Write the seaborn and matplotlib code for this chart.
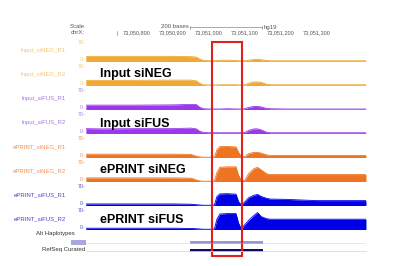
import matplotlib
matplotlib.use("Agg")
import matplotlib.pyplot as plt
import seaborn as sns
import pandas as pd
from matplotlib.patches import Rectangle

sns.set_theme(style="white")
plt.rcParams['font.family'] = ['Liberation Sans', 'DejaVu Sans']

# ---------------- data ----------------
positions = [73050658, 73050700, 73050800, 73050900, 73050950, 73050965, 73050975,
             73050985, 73051000, 73051015, 73051022, 73051030, 73051050, 73051075,
             73051082, 73051090, 73051100, 73051110, 73051125, 73051135, 73051145,
             73051160, 73051170, 73051210, 73051300, 73051436]

input_sineg_r1 = [20, 20, 20, 20, 19, 17, 9, 4, 3, 3, 4, 5, 5, 4, 3, 3, 3, 5, 8, 8, 7, 4, 3, 3, 3, 3]
input_sineg_r2 = [20, 20, 20, 21, 21, 18, 8, 3, 2, 2, 2, 3, 3, 3, 2, 2, 3, 9, 14, 14, 12, 5, 3, 3, 3, 3]
input_sifus_r1 = [17, 17, 17, 18, 20, 19, 8, 3, 2, 2, 2, 2, 3, 2, 2, 2, 3, 8, 12, 12, 10, 4, 3, 2, 2, 2]
input_sifus_r2 = [19, 18, 19, 19, 21, 18, 8, 4, 3, 3, 3, 3, 3, 3, 3, 3, 4, 12, 18, 18, 14, 5, 3, 3, 3, 3]
eprint_sineg_r1 = [13, 13, 13, 13, 12, 5, 2, 1, 1, 2, 30, 42, 43, 41, 20, 3, 3, 15, 20, 20, 17, 10, 8, 8, 8, 8]
eprint_sineg_r2 = [14, 14, 14, 14, 13, 6, 2, 1, 1, 2, 35, 55, 57, 57, 25, 3, 5, 30, 50, 55, 45, 30, 27, 27, 27, 27]
eprint_sifus_r1 = [6, 6, 6, 6, 5, 3, 2, 1, 1, 2, 35, 45, 46, 44, 15, 2, 15, 30, 40, 43, 35, 28, 25, 24, 19, 19]
eprint_sifus_r2 = [5, 5, 5, 5, 4, 3, 2, 1, 1, 2, 40, 60, 62, 62, 25, 2, 20, 35, 55, 66, 50, 42, 40, 40, 40, 40]

track_names = ["Input_siNEG_R1", "Input_siNEG_R2", "Input_siFUS_R1", "Input_siFUS_R2",
               "ePRINT_siNEG_R1", "ePRINT_siNEG_R2", "ePRINT_siFUS_R1", "ePRINT_siFUS_R2"]
track_values = [input_sineg_r1, input_sineg_r2, input_sifus_r1, input_sifus_r2,
                eprint_sineg_r1, eprint_sineg_r2, eprint_sifus_r1, eprint_sifus_r2]
track_colors = ["#F0A830", "#F0A830", "#9A38EC", "#9A38EC",
                "#EE7422", "#EE7422", "#0000E8", "#0000E8"]
label_colors = ["#F2C678", "#F2C678", "#A878E8", "#A878E8",
                "#EE9058", "#EE9058", "#4848C8", "#4848C8"]
group_labels = ["Input siNEG", "Input siFUS", "ePRINT siNEG", "ePRINT siFUS"]

ruler_ticks = [73050800, 73050900, 73051000, 73051100, 73051200, 73051300]
ruler_labels = ["73,050,800", "73,050,900", "73,051,000", "73,051,100", "73,051,200", "73,051,300"]

gene_start, gene_end = 73050947, 73051150
box_start, box_end = 73051008, 73051092

# ---------------- layout helpers ----------------
W, H = 393, 266
BP_PER_PX = 100 / 36.0
G0, PX0 = 73050800, 137


def g(px):
    return G0 + (px - PX0) * BP_PER_PX


fig = plt.figure(figsize=(W / 100, H / 100), dpi=100)
fig.patch.set_facecolor("white")


def ftext(x, y, s, **kw):
    fig.text(x / W, 1 - y / H, s, **kw)


TL, TR = 86, 366
for i, (name, vals, col, lcol) in enumerate(zip(track_names, track_values, track_colors, label_colors)):
    base = 61.5 + 24 * i
    ax = fig.add_axes([TL / W, 1 - base / H, (TR - TL) / W, 18 / H])
    df = pd.DataFrame({"pos": positions, "val": vals})
    ax.fill_between(df["pos"], 0, df["val"], color=col, lw=0)
    sns.lineplot(data=df, x="pos", y="val", color=col, lw=0.6, ax=ax)
    ax.set_xlim(g(TL), g(TR))
    ax.set_ylim(0, 70)
    ax.axis("off")
    ftext(66, base - 11, name, fontsize=4.3, color=lcol, ha="right", va="center")
    ftext(85, base - 19.5, "70-", fontsize=3.8, color=lcol, ha="right", va="center")
    ftext(85, base - 2, "0-", fontsize=3.8, color=lcol, ha="right", va="center")

# overlay axes in genome x / pixel y
ov = fig.add_axes([0, 0, 1, 1], zorder=5)
ov.set_xlim(g(0), g(W))
ov.set_ylim(H, 0)
ov.axis("off")
ov.patch.set_alpha(0)

# header
ftext(85, 27, "Scale", fontsize=4.3, color="#555555", ha="right", va="center")
ftext(85, 33, "chrX:", fontsize=4.3, color="#555555", ha="right", va="center")
ftext(189, 27, "200 bases", fontsize=4.3, color="#555555", ha="right", va="center")
ov.plot([g(190), g(262)], [27, 27], color="#888888", lw=0.5)
ov.plot([g(190), g(190)], [25.5, 28.5], color="#888888", lw=0.5)
ov.plot([g(262), g(262)], [25.5, 28.5], color="#888888", lw=0.5)
ftext(264, 27, "hg19", fontsize=4.3, color="#555555", ha="left", va="center")
ov.plot([g(117), g(117)], [31, 35], color="#888888", lw=0.5)
for t, lab in zip(ruler_ticks, ruler_labels):
    ov.text(t, 33, lab, fontsize=4.0, color="#555555", ha="center", va="center")

# annotation tracks
ftext(75, 234, "Alt Haplotypes", fontsize=4.3, color="#333333", ha="right", va="center")
ftext(85, 250, "RefSeq Curated", fontsize=4.3, color="#333333", ha="right", va="center")
ov.add_patch(Rectangle((g(71), 240), g(86) - g(71), 5, color="#A8A8DC", lw=0))
ov.plot([g(TL), g(TR)], [242.5, 242.5], color="#C8C8E0", lw=0.6, ls=(0, (1, 1)))
ov.plot([g(TL), g(TR)], [250.5, 250.5], color="#D8D8E8", lw=0.6)
ov.add_patch(Rectangle((gene_start, 241), gene_end - gene_start, 3, color="#9898D0", lw=0))
ov.add_patch(Rectangle((gene_start, 249), gene_end - gene_start, 3, color="#0C0C60", lw=0))

# red highlight box
ov.add_patch(Rectangle((box_start, 41.5), box_end - box_start, 214, fill=False,
                       edgecolor="#E0201E", lw=1.5))

# big group labels
for lab, y in zip(group_labels, [77.5, 126.5, 173, 223]):
    ftext(100, y, lab, fontsize=9, fontweight="bold", color="black", ha="left", va="baseline")

fig.savefig("out.png", dpi=100, facecolor="white")
